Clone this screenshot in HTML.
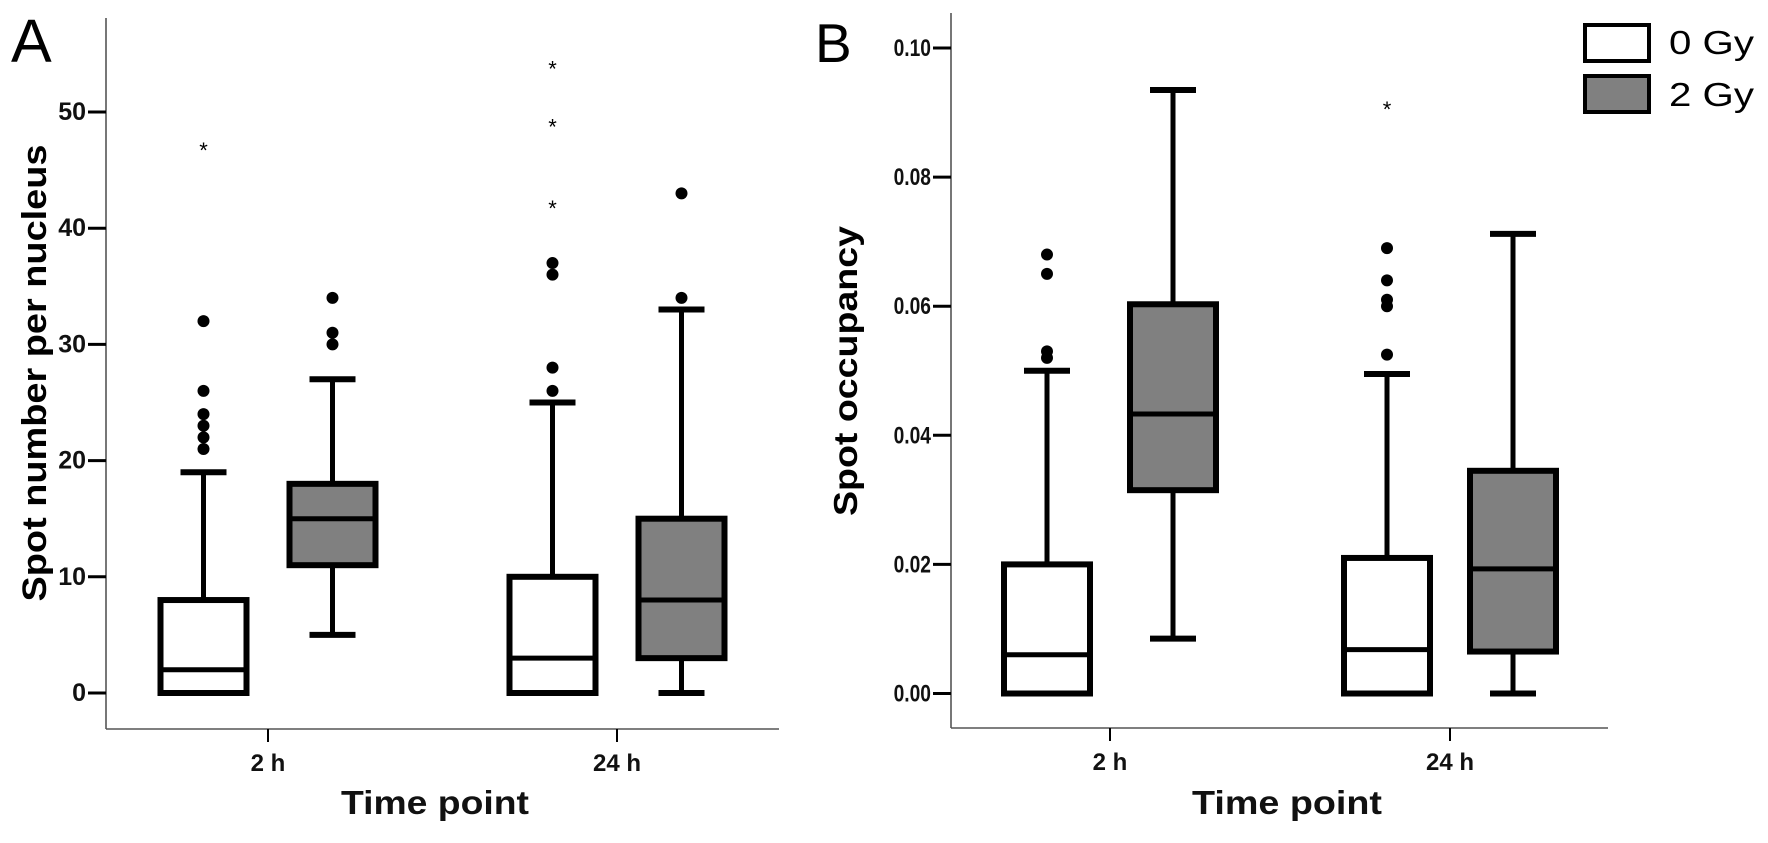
<!DOCTYPE html>
<html><head><meta charset="utf-8"><style>
body{margin:0;background:#fff;}
svg{display:block;font-family:"Liberation Sans",Arial,sans-serif;}
</style></head><body>
<svg id="chart" width="1768" height="843" viewBox="0 0 1768 843"></svg>
<script>
// Panel A data
const groupsA = ["2 h","24 h"];
const ticksA = [0,10,20,30,40,50];
const statsA0 = [[0,0,2,8,19],[0,0,3,10,25]];      // 0 Gy: low,q1,med,q3,high
const statsA2 = [[5,11,15,18,27],[0,3,8,15,33]];   // 2 Gy
const circA0 = [[21,22,23,24,26,32],[26,28,36,37]];
const starA0 = [[47],[42,49,54]];
const circA2 = [[30,31,34],[34,43]];
const starA2 = [[],[]];
// Panel B data
const groupsB = ["2 h","24 h"];
const ticksB = [0,0.02,0.04,0.06,0.08,0.10];
const tickLabB = ["0.00","0.02","0.04","0.06","0.08","0.10"];
const statsB0 = [[0,0,0.006,0.020,0.050],[0,0,0.0068,0.021,0.0495]];
const statsB2 = [[0.0085,0.0315,0.0433,0.0603,0.0935],[0,0.0065,0.0193,0.0345,0.0712]];
const circB0 = [[0.052,0.053,0.065,0.068],[0.0525,0.060,0.061,0.064,0.069]];
const starB0 = [[],[0.091]];
const circB2 = [[],[]];
const starB2 = [[],[]];

const svg = document.getElementById('chart');
const NS = 'http://www.w3.org/2000/svg';
function mk(tag, attrs, parent){const e=document.createElementNS(NS,tag);for(const k in attrs)e.setAttribute(k,attrs[k]);(parent||svg).appendChild(e);return e;}

function panel(cfg){
  const g = mk('g',{});
  
  
  const y = v => cfg.y0 + (cfg.y1 - cfg.y0) * (v - cfg.t0) / (cfg.t1 - cfg.t0);
  const xg = i => cfg.gx[i];
  const ax = mk('line',{x1:cfg.ax,y1:cfg.atop,x2:cfg.ax,y2:cfg.abot,stroke:'#555','stroke-width':1.6},g);
  
  
  const bx = mk('line',{x1:cfg.ax,y1:cfg.abot,x2:cfg.aend,y2:cfg.abot,stroke:'#555','stroke-width':1.6},g);
  
  
  cfg.ticks.forEach((t,i)=>{
    const ty = y(t);
    mk('line',{x1:cfg.ax-18,y1:ty,x2:cfg.ax,y2:ty,stroke:'#000','stroke-width':3},g);
    const tx = mk('text',{x:cfg.ax-20,y:ty+8,'text-anchor':'end','font-size':cfg.tickFs,'font-weight':'bold',fill:'#111'},g);
    if(cfg.condensed) tx.setAttribute('transform',`translate(${cfg.ax-20},0) scale(0.8,1) translate(${-(cfg.ax-20)},0)`);
    tx.textContent = cfg.tickLab[i];
    
    
  });
  cfg.groups.forEach((lab,i)=>{
    mk('line',{x1:xg(i),y1:cfg.abot,x2:xg(i),y2:cfg.abot+13,stroke:'#000','stroke-width':2},g);
    const tx = mk('text',{x:xg(i),y:cfg.abot+42,'text-anchor':'middle','font-size':24,'font-weight':'bold',fill:'#111'},g);
    tx.textContent = lab;
    
    
  });
  function box(cx, s, fill, circ, star, nm){
    const bg = mk('g',{},g);
    
    
    const hw = 43, cw = 23;
    mk('line',{x1:cx,y1:y(s[0]),x2:cx,y2:y(s[1]),stroke:'#000','stroke-width':5},bg);
    mk('line',{x1:cx,y1:y(s[3]),x2:cx,y2:y(s[4]),stroke:'#000','stroke-width':5},bg);
    mk('line',{x1:cx-cw,y1:y(s[0]),x2:cx+cw,y2:y(s[0]),stroke:'#000','stroke-width':6},bg);
    mk('line',{x1:cx-cw,y1:y(s[4]),x2:cx+cw,y2:y(s[4]),stroke:'#000','stroke-width':6},bg);
    mk('rect',{x:cx-hw,y:y(s[3]),width:2*hw,height:y(s[1])-y(s[3]),fill:fill,stroke:'#000','stroke-width':6},bg);
    mk('line',{x1:cx-hw,y1:y(s[2]),x2:cx+hw,y2:y(s[2]),stroke:'#000','stroke-width':5},bg);
    circ.forEach(v=>{const c=mk('circle',{cx:cx,cy:y(v),r:6,fill:'#000'},bg);
      
      });
    star.forEach(v=>{const t=mk('text',{x:cx,y:y(v)+11,'text-anchor':'middle','font-size':22,fill:'#000'},bg);t.textContent='*';
      
      });
  }
  cfg.groups.forEach((lab,i)=>{
    box(xg(i)-cfg.off, cfg.s0[i], '#fff', cfg.c0[i], cfg.st0[i], 'box-0gy-'+i);
    box(xg(i)+cfg.off, cfg.s2[i], '#808080', cfg.c2[i], cfg.st2[i], 'box-2gy-'+i);
  });
}

panel({name:'panel-a',ax:106,atop:18,abot:729,aend:779,y0:693,y1:112,t0:0,t1:50,
  ticks:ticksA,tickLab:ticksA.map(String),tickFs:25,gx:[268,617],off:64.5,groups:groupsA,
  s0:statsA0,s2:statsA2,c0:circA0,c2:circA2,st0:starA0,st2:starA2});
panel({name:'panel-b',ax:951,atop:13,abot:728,aend:1608,y0:693.5,y1:48,t0:0,t1:0.10,condensed:true,
  ticks:ticksB,tickLab:tickLabB,tickFs:24,gx:[1110,1450],off:63,groups:groupsB,
  s0:statsB0,s2:statsB2,c0:circB0,c2:circB2,st0:starB0,st2:starB2});
</script>
<svg style="position:absolute;left:0;top:0" width="1768" height="843">
  <text x="11" y="62" font-size="61" fill="#000" font-family="Liberation Sans, sans-serif">A</text>
  <text x="815" y="62" font-size="55" fill="#000" font-family="Liberation Sans, sans-serif">B</text>
  <text transform="translate(46,373) rotate(-90)" text-anchor="middle" font-size="34" font-weight="bold" fill="#000" font-family="Liberation Sans, sans-serif" textLength="457" lengthAdjust="spacingAndGlyphs">Spot number per nucleus</text>
  <text transform="translate(857,371) rotate(-90)" text-anchor="middle" font-size="33" font-weight="bold" fill="#000" font-family="Liberation Sans, sans-serif" textLength="290" lengthAdjust="spacingAndGlyphs">Spot occupancy</text>
  <text x="435" y="814" text-anchor="middle" font-size="33" font-weight="bold" fill="#111" font-family="Liberation Sans, sans-serif" textLength="188" lengthAdjust="spacingAndGlyphs">Time point</text>
  <text x="1287" y="814" text-anchor="middle" font-size="33" font-weight="bold" fill="#111" font-family="Liberation Sans, sans-serif" textLength="190" lengthAdjust="spacingAndGlyphs">Time point</text>
  <g>
    <rect x="1585" y="25" width="64" height="36" fill="#fff" stroke="#000" stroke-width="4"/>
    <text x="1669" y="54" font-size="33" fill="#000" font-family="Liberation Sans, sans-serif" textLength="85" lengthAdjust="spacingAndGlyphs">0 Gy</text>
    <rect x="1585" y="76" width="64" height="36" fill="#808080" stroke="#000" stroke-width="4"/>
    <text x="1669" y="106" font-size="33" fill="#000" font-family="Liberation Sans, sans-serif" textLength="85" lengthAdjust="spacingAndGlyphs">2 Gy</text>
  </g>
</svg>
</body></html>
